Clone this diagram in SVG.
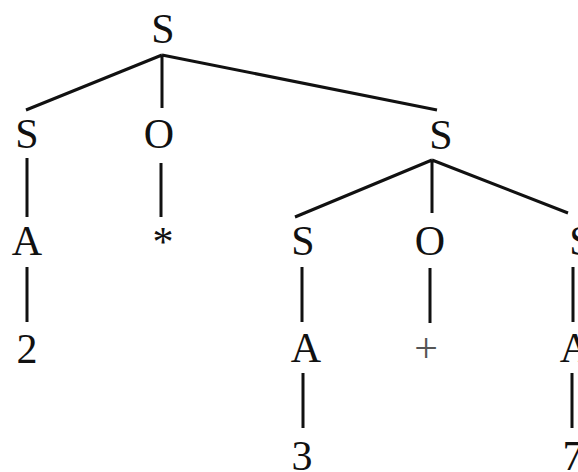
<svg xmlns="http://www.w3.org/2000/svg" width="578" height="472" viewBox="0 0 578 472">
  <style>
    text { font-family: "Liberation Serif", "Times New Roman", serif; font-size: 42px; fill: #111; text-anchor: middle; }
    .op { fill: #555; }
    .edge { stroke: #111; stroke-width: 3; stroke-linecap: butt; fill: none; }
  </style>
  <rect width="578" height="472" fill="#fff"/>

  <!-- tree edges -->
  <g id="edges">
    <path class="edge" d="M162 55 L26 110 M162 55 L162 108 M162 55 L437 110"/>
    <path class="edge" d="M27 158 L27 217 M27 267 L27 322"/>
    <path class="edge" d="M161 163 L161 217"/>
    <path class="edge" d="M432 160 L295 217 M432 160 L432 213 M432 160 L568 213"/>
    <path class="edge" d="M302 267 L302 322 M430 268 L430 323 M573 267 L573 322"/>
    <path class="edge" d="M303 373 L303 428 M572 373 L572 428"/>
  </g>

  <!-- nodes -->
  <g id="n-root"><text x="163" y="43">S</text></g>
  <g id="n-s1"><text x="27" y="148">S</text></g>
  <g id="n-o1"><text x="159" y="148">O</text></g>
  <g id="n-s2"><text x="441" y="149">S</text></g>
  <g id="n-a1"><text x="27" y="255">A</text></g>
  <g id="n-star"><text x="163" y="256">*</text></g>
  <g id="n-s3"><text x="303" y="255">S</text></g>
  <g id="n-o2"><text x="430" y="255">O</text></g>
  <g id="n-s4"><text x="581" y="255">S</text></g>
  <g id="n-2"><text x="27" y="363">2</text></g>
  <g id="n-a2"><text x="306" y="362">A</text></g>
  <g id="n-plus"><text class="op" x="426" y="362">+</text></g>
  <g id="n-a3"><text x="575" y="362">A</text></g>
  <g id="n-3"><text x="302" y="470">3</text></g>
  <g id="n-7"><text x="573" y="470">7</text></g>
</svg>
